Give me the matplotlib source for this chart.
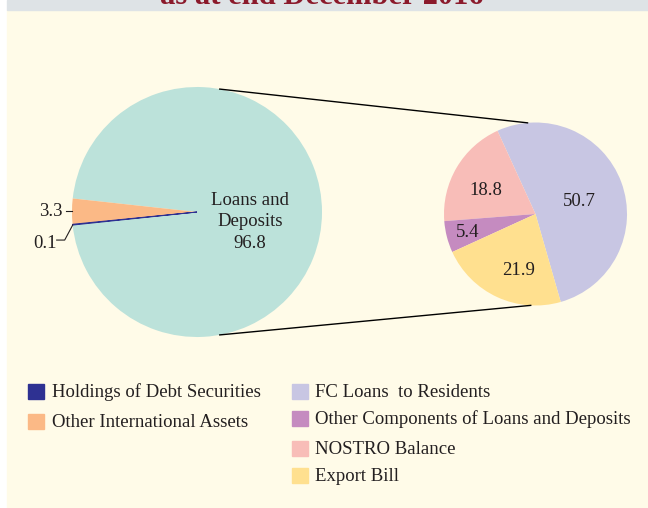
import numpy as np
import matplotlib.pyplot as plt
from matplotlib.patches import Rectangle

# Данные: левая диаграмма (активы) и правая (детализация займов и депозитов)
outer_labels = ['Loans and Deposits', 'Other International Assets', 'Holdings of Debt Securities']
outer_values = [96.8, 3.3, 0.1]
outer_colors = ['#bce2da', '#fbb986', '#2e3192']

inner_labels = ['FC Loans  to Residents', 'NOSTRO Balance',
                'Other Components of Loans and Deposits', 'Export Bill']
inner_values = [50.7, 18.8, 5.4, 21.9]
inner_colors = ['#c8c6e3', '#f8bdb8', '#c58bc0', '#ffe08f']

legend_left = ['Holdings of Debt Securities', 'Other International Assets']
legend_left_colors = ['#2e3192', '#fbb986']
legend_right = ['FC Loans  to Residents', 'Other Components of Loans and Deposits',
                'NOSTRO Balance', 'Export Bill']
legend_right_colors = ['#c8c6e3', '#c58bc0', '#f8bdb8', '#ffe08f']

title = 'as at end December 2016'

W, H = 648, 508
TXT = '#231f20'
FONT = 'Liberation Serif'
FS = 13.5

fig = plt.figure(figsize=(W / 100, H / 100), dpi=100, facecolor='white')
ax = fig.add_axes([0, 0, 1, 1])

# фон
ax.add_patch(Rectangle((7, 0), W - 7, H - 10, color='#fffbe8', zorder=0))
ax.add_patch(Rectangle((7, H - 10), W - 7, 10, color='#dee3e6', zorder=0))
# заголовок обрезан верхним краем, как в оригинале
ax.text(322, H - 4, title, ha='center', va='baseline', fontsize=22,
        fontweight='bold', family=FONT, color='#8b1a2b')

# левая диаграмма
c1, r1 = (197, H - 212), 125
w1, _ = ax.pie(outer_values, colors=outer_colors, startangle=-174, center=c1,
               radius=r1, wedgeprops=dict(linewidth=0), frame=True)
w1[2].set_edgecolor(outer_colors[2])
w1[2].set_linewidth(0.7)

ax.text(c1[0] + 53, c1[1] - 10, 'Loans and\nDeposits\n%.1f' % outer_values[0],
        ha='center', va='center', fontsize=FS, family=FONT, color=TXT, linespacing=1.38)


def edge_point(c, r, ang):
    a = np.deg2rad(ang)
    return c[0] + r * np.cos(a), c[1] + r * np.sin(a)


# подпись 3.3
p = edge_point(c1, r1, (w1[1].theta1 + w1[1].theta2) / 2)
ax.plot([p[0] - 6, p[0]], [p[1], p[1]], color=TXT, lw=0.8)
ax.text(p[0] - 9, p[1], '%.1f' % outer_values[1], ha='right', va='center',
        fontsize=FS, family=FONT, color=TXT)
# подпись 0.1
p = edge_point(c1, r1, w1[2].theta2)
ax.plot([p[0] - 16, p[0] - 8, p[0]], [p[1] - 15, p[1] - 15, p[1]], color=TXT, lw=0.8)
ax.text(p[0] - 15.5, p[1] - 18, '%.1f' % outer_values[2], ha='right', va='center',
        fontsize=FS, family=FONT, color=TXT)

# правая диаграмма
c2, r2 = (535.5, H - 214), 91.5
w2, _ = ax.pie(inner_values, colors=inner_colors, startangle=-74, center=c2,
               radius=r2, wedgeprops=dict(linewidth=0), frame=True)

label_dist = [0.5, 0.6, 0.77, 0.64]
label_shift = [-4, 5, 1, 8]
for w, v, d, s in zip(w2, inner_values, label_dist, label_shift):
    ang = (w.theta1 + w.theta2) / 2 + s
    x, y = edge_point(c2, r2 * d, ang)
    ax.text(x, y, '%.1f' % v, ha='center', va='center', fontsize=FS,
            family=FONT, color=TXT)

# соединительные линии
a = edge_point(c1, r1, 79.5)
b = edge_point(c2, r2, 95)
ax.plot([a[0], b[0]], [a[1], b[1]], color='black', lw=1)
a = edge_point(c1, r1, -79.5)
b = edge_point(c2, r2, 267)
ax.plot([a[0], b[0]], [a[1], b[1]], color='black', lw=1)

# легенда
for lab, col, y in zip(legend_left, legend_left_colors, [391.5, 421.5]):
    ax.add_patch(Rectangle((28, H - y - 7.5), 16, 15, color=col))
    ax.text(52, H - y - 1, lab, ha='left', va='center', fontsize=FS, family=FONT, color=TXT)
for lab, col, y in zip(legend_right, legend_right_colors, [391.5, 418, 448, 475.5]):
    ax.add_patch(Rectangle((292, H - y - 7.5), 16, 15, color=col))
    ax.text(315, H - y - 1, lab, ha='left', va='center', fontsize=FS, family=FONT, color=TXT)

ax.set_xlim(0, W)
ax.set_ylim(0, H)
ax.set_aspect('equal')
ax.axis('off')

plt.savefig('out.png', dpi=100, facecolor=fig.get_facecolor())
